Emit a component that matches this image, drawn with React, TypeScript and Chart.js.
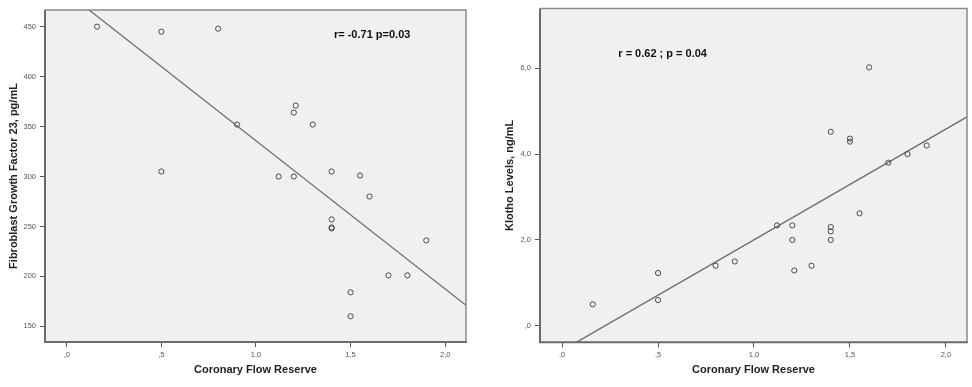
import React, { useEffect, useRef } from "react";
import { Chart, registerables } from "chart.js";

Chart.register(...registerables);

// ---- Data: left chart (FGF-23 vs CFR)
const cfrFgf = [0.16, 0.5, 0.8, 0.9, 0.5, 1.21, 1.2, 1.3, 1.12, 1.2, 1.4, 1.55, 1.6, 1.4, 1.4, 1.4, 1.9, 1.7, 1.8, 1.5, 1.5];
const fgf23 = [450, 445, 448, 352, 305, 371, 364, 352, 300, 300, 305, 301, 280, 257, 248, 249, 236, 201, 201, 184, 160];
const fgfFitX = [-0.115, 2.11];
const fgfFitY = [501.3, 171.1];
const fgfTicks = [150, 200, 250, 300, 350, 400, 450];
const fgfRange = [134.3, 466.7];

// ---- Data: right chart (Klotho vs CFR)
const cfrKlotho = [0.16, 0.5, 0.5, 0.8, 0.9, 1.12, 1.2, 1.2, 1.21, 1.3, 1.4, 1.4, 1.4, 1.4, 1.5, 1.5, 1.55, 1.6, 1.7, 1.8, 1.9];
const klotho = [0.5, 1.23, 0.6, 1.4, 1.5, 2.34, 2.34, 2.0, 1.29, 1.4, 4.52, 2.3, 2.2, 2.0, 4.36, 4.29, 2.62, 6.02, 3.8, 4.0, 4.2];
const klothoFitX = [0.074, 2.11];
const klothoFitY = [-0.385, 4.866];
const klothoTicks = [0, 2, 4, 6];
const klothoRange = [-0.383, 7.39];

// ---- Shared x axis
const cfrTicks = [0, 0.5, 1, 1.5, 2];
const cfrRange = [-0.115, 2.11];

const xTitle = "Coronary Flow Reserve";
const fgfTitle = "Fibroblast Growth Factor 23, pg/mL";
const klothoTitle = "Klotho Levels, ng/mL";
const fgfNote = "r= -0.71 p=0.03";
const klothoNote = "r = 0.62 ; p = 0.04";
const fgfNotePos = [1.412, 441.7];
const klothoNotePos = [0.293, 6.33];

const FONT = "'Liberation Sans', Arial, Helvetica, sans-serif";

function spssDecimal(v: number): string {
  const s = v.toFixed(1).replace(".", ",");
  return s.startsWith("0,") ? s.slice(1) : s;
}

function makeFramePlugin(note: string, pos: number[]) {
  return {
    id: "frame",
    beforeDatasetsDraw(chart: any) {
      const { ctx, chartArea: a } = chart;
      ctx.save();
      ctx.fillStyle = "#f0f0f0";
      ctx.fillRect(a.left, a.top, a.right - a.left, a.bottom - a.top);
      ctx.restore();
    },
    afterDatasetsDraw(chart: any) {
      const { ctx, chartArea: a, scales } = chart;
      ctx.save();
      // top & right light border
      ctx.strokeStyle = "#8a8a8a";
      ctx.lineWidth = 1.5;
      ctx.beginPath();
      ctx.moveTo(a.left, a.top);
      ctx.lineTo(a.right, a.top);
      ctx.lineTo(a.right, a.bottom);
      ctx.stroke();
      // axis lines darker
      ctx.strokeStyle = "#6a6a6a";
      ctx.lineWidth = 2;
      ctx.beginPath();
      ctx.moveTo(a.left, a.top);
      ctx.lineTo(a.left, a.bottom);
      ctx.lineTo(a.right + 0.75, a.bottom);
      ctx.stroke();
      // annotation
      ctx.fillStyle = "#111";
      ctx.font = `bold 11px ${FONT}`;
      ctx.textAlign = "left";
      ctx.textBaseline = "middle";
      ctx.fillText(note, scales.x.getPixelForValue(pos[0]), scales.y.getPixelForValue(pos[1]));
      ctx.restore();
    },
  };
}

interface Cfg {
  xs: number[];
  ys: number[];
  fitX: number[];
  fitY: number[];
  yTicks: number[];
  yRange: number[];
  yFmt: (v: number) => string;
  yTitle: string;
  note: string;
  notePos: number[];
  padTop: number;
  padRight: number;
  yAxisWidth: number;
  xAxisHeight: number;
  yTitlePad: number;
}

function ScatterPanel({ cfg, left }: { cfg: Cfg; left: number }) {
  const ref = useRef<HTMLCanvasElement | null>(null);
  useEffect(() => {
    if (!ref.current) return;
    const pts = cfg.xs.map((x, i) => ({ x, y: cfg.ys[i] }));
    const fit = cfg.fitX.map((x, i) => ({ x, y: cfg.fitY[i] }));
    const chart = new Chart(ref.current, {
      type: "scatter",
      data: {
        datasets: [
          {
            data: fit,
            showLine: true,
            borderColor: "#707070",
            borderWidth: 1.3,
            pointRadius: 0,
            pointHoverRadius: 0,
            order: 2,
          } as any,
          {
            data: pts,
            pointRadius: 2.6,
            pointBorderWidth: 1,
            pointBackgroundColor: "rgba(0,0,0,0)",
            pointBorderColor: "#4a4a4a",
            order: 1,
          } as any,
        ],
      },
      options: {
        animation: false,
        responsive: false,
        maintainAspectRatio: false,
        devicePixelRatio: 1,
        layout: { padding: { top: cfg.padTop, right: cfg.padRight, left: 0, bottom: 0 } },
        plugins: { legend: { display: false }, tooltip: { enabled: false } },
        events: [],
        scales: {
          x: {
            type: "linear",
            min: cfrRange[0],
            max: cfrRange[1],
            afterBuildTicks: (s: any) => {
              s.ticks = cfrTicks.map((v) => ({ value: v }));
            },
            afterFit: (s: any) => {
              s.height = cfg.xAxisHeight;
            },
            ticks: {
              callback: (v: any) => spssDecimal(Number(v)),
              font: { family: FONT, size: 7.5 },
              color: "#555",
              padding: 3,
              maxRotation: 0,
              autoSkip: false,
            },
            grid: { drawOnChartArea: false, drawTicks: true, tickLength: 5, color: "#555", lineWidth: 1 },
            border: { display: false },
            title: {
              display: true,
              text: xTitle,
              font: { family: FONT, size: 11, weight: "bold" },
              color: "#222",
              padding: { top: 0, bottom: 10.4 },
            },
          },
          y: {
            type: "linear",
            min: cfg.yRange[0],
            max: cfg.yRange[1],
            afterBuildTicks: (s: any) => {
              s.ticks = cfg.yTicks.map((v) => ({ value: v }));
            },
            afterFit: (s: any) => {
              s.width = cfg.yAxisWidth;
            },
            ticks: {
              callback: (v: any) => cfg.yFmt(Number(v)),
              font: { family: FONT, size: 7.5 },
              color: "#555",
              padding: 4,
              autoSkip: false,
            },
            grid: { drawOnChartArea: false, drawTicks: true, tickLength: 5, color: "#555", lineWidth: 1 },
            border: { display: false },
            title: {
              display: true,
              text: cfg.yTitle,
              font: { family: FONT, size: 11, weight: "bold" },
              color: "#222",
              padding: { top: cfg.yTitlePad, bottom: 0 },
            },
          },
        },
      } as any,
      plugins: [makeFramePlugin(cfg.note, cfg.notePos)],
    });
    return () => chart.destroy();
  }, [cfg]);
  return (
    <canvas
      ref={ref}
      width={486}
      height={387}
      style={{ position: "absolute", left, top: 0, width: 486, height: 387 }}
    />
  );
}

const leftCfg: Cfg = {
  xs: cfrFgf,
  ys: fgf23,
  fitX: fgfFitX,
  fitY: fgfFitY,
  yTicks: fgfTicks,
  yRange: fgfRange,
  yFmt: (v) => String(Math.round(v)),
  yTitle: fgfTitle,
  note: fgfNote,
  notePos: fgfNotePos,
  padTop: 10,
  padRight: 20,
  yAxisWidth: 45,
  xAxisHeight: 45,
  yTitlePad: 7,
};

const rightCfg: Cfg = {
  xs: cfrKlotho,
  ys: klotho,
  fitX: klothoFitX,
  fitY: klothoFitY,
  yTicks: klothoTicks,
  yRange: klothoRange,
  yFmt: (v) => spssDecimal(v),
  yTitle: klothoTitle,
  note: klothoNote,
  notePos: klothoNotePos,
  padTop: 5.7,
  padRight: 3.3,
  yAxisWidth: 54,
  xAxisHeight: 44.7,
  yTitlePad: 17.4,
};

export default function App() {
  return (
    <div style={{ position: "absolute", left: 0, top: 0, width: 972, height: 387, background: "#fff" }}>
      <ScatterPanel cfg={leftCfg} left={0} />
      <ScatterPanel cfg={rightCfg} left={486} />
    </div>
  );
}
